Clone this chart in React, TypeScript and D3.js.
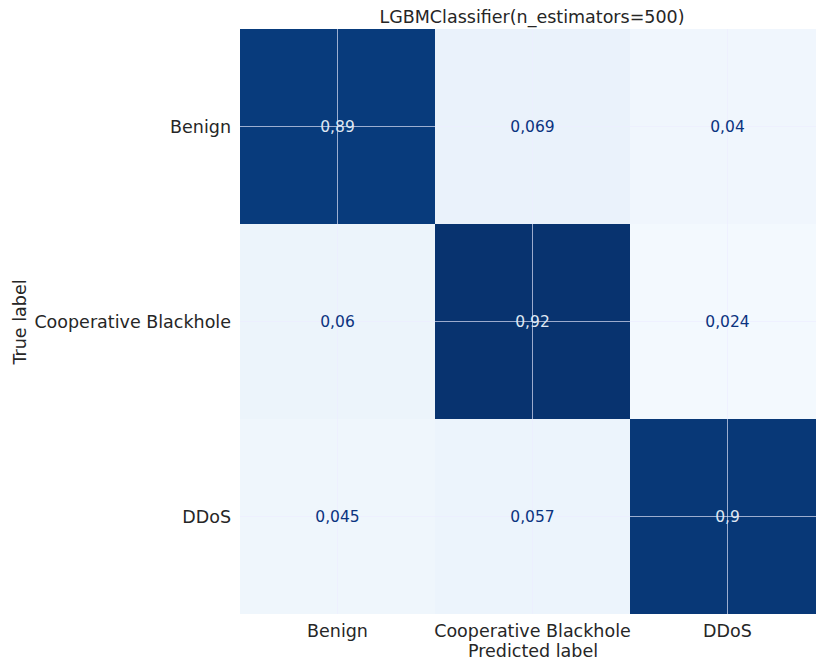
import React, { useEffect, useRef } from 'react';
import * as d3 from 'd3';

const labels = ['Benign', 'Cooperative Blackhole', 'DDoS'];
// rows = true label, cols = predicted label
const row0 = [0.89, 0.069, 0.04];
const row1 = [0.06, 0.92, 0.024];
const row2 = [0.045, 0.057, 0.9];
const cellText = [
  ['0,89', '0,069', '0,04'],
  ['0,06', '0,92', '0,024'],
  ['0,045', '0,057', '0,9'],
];
const title = 'LGBMClassifier(n_estimators=500)';

export default function App() {
  const svgRef = useRef<SVGSVGElement>(null);

  useEffect(() => {
    document.body.style.margin = '0';
    if (!svgRef.current) return;
    const width = 816;
    const height = 660;
    const svg = d3.select(svgRef.current);
    svg.selectAll('*').remove();
    svg.attr('width', width).attr('height', height)
      .style('font-family', '"DejaVu Sans", sans-serif');

    const matrix = [row0, row1, row2];
    const flat = matrix.flat();

    const x = d3.scaleBand<string>().domain(labels).range([240, 825]);
    const y = d3.scaleBand<string>().domain(labels).range([29, 614]);
    const color = d3.scaleSequential(d3.interpolateBlues)
      .domain([d3.min(flat)! * 0.3, d3.max(flat)! * 1.01]);

    const cells = matrix.flatMap((row, i) =>
      row.map((v, j) => ({ i, j, v, t: cellText[i][j] })));

    const g = svg.append('g');
    g.selectAll('rect')
      .data(cells)
      .enter()
      .append('rect')
      .attr('x', d => x(labels[d.j])!)
      .attr('y', d => y(labels[d.i])!)
      .attr('width', x.bandwidth())
      .attr('height', y.bandwidth())
      .attr('fill', d => color(d.v));

    // grid lines through the tick centres
    labels.forEach(l => {
      const cx = x(l)! + x.bandwidth() / 2;
      const cy = y(l)! + y.bandwidth() / 2;
      g.append('line')
        .attr('x1', cx).attr('x2', cx).attr('y1', 29).attr('y2', 614)
        .attr('stroke', '#ececff').attr('stroke-opacity', 0.65).attr('stroke-width', 1);
      g.append('line')
        .attr('x1', 240).attr('x2', 825).attr('y1', cy).attr('y2', cy)
        .attr('stroke', '#ececff').attr('stroke-opacity', 0.65).attr('stroke-width', 1);
    });

    const thresh = (d3.min(flat)! + d3.max(flat)!) / 2;
    g.selectAll('text.val')
      .data(cells)
      .enter()
      .append('text')
      .attr('class', 'val')
      .attr('x', d => x(labels[d.j])! + x.bandwidth() / 2)
      .attr('y', d => y(labels[d.i])! + y.bandwidth() / 2)
      .attr('dy', '0.35em')
      .attr('text-anchor', 'middle')
      .attr('font-size', '15.5px')
      .attr('fill', d => (d.v > thresh ? '#dfe7f2' : '#0b3380'))
      .text(d => d.t);

    // x tick labels
    svg.selectAll('text.xt')
      .data(labels)
      .enter()
      .append('text')
      .attr('class', 'xt')
      .attr('x', d => x(d)! + x.bandwidth() / 2)
      .attr('y', 637)
      .attr('text-anchor', 'middle')
      .attr('font-size', '17.5px')
      .attr('fill', '#262626')
      .text(d => d);

    // y tick labels
    svg.selectAll('text.yt')
      .data(labels)
      .enter()
      .append('text')
      .attr('class', 'yt')
      .attr('x', 231)
      .attr('y', d => y(d)! + y.bandwidth() / 2)
      .attr('dy', '0.35em')
      .attr('text-anchor', 'end')
      .attr('font-size', '17.5px')
      .attr('fill', '#262626')
      .text(d => d);

    svg.append('text')
      .attr('x', 533)
      .attr('y', 657)
      .attr('text-anchor', 'middle')
      .attr('font-size', '17.5px')
      .attr('fill', '#262626')
      .text('Predicted label');

    svg.append('text')
      .attr('transform', 'translate(26,322) rotate(-90)')
      .attr('text-anchor', 'middle')
      .attr('font-size', '17.5px')
      .attr('fill', '#262626')
      .text('True label');

    svg.append('text')
      .attr('x', 532)
      .attr('y', 23)
      .attr('text-anchor', 'middle')
      .attr('font-size', '17.5px')
      .attr('fill', '#262626')
      .text(title);
  }, []);

  return (
    <div style={{ width: 816, height: 660, overflow: 'hidden', background: '#fff' }}>
      <svg ref={svgRef} style={{ display: 'block' }} />
    </div>
  );
}
